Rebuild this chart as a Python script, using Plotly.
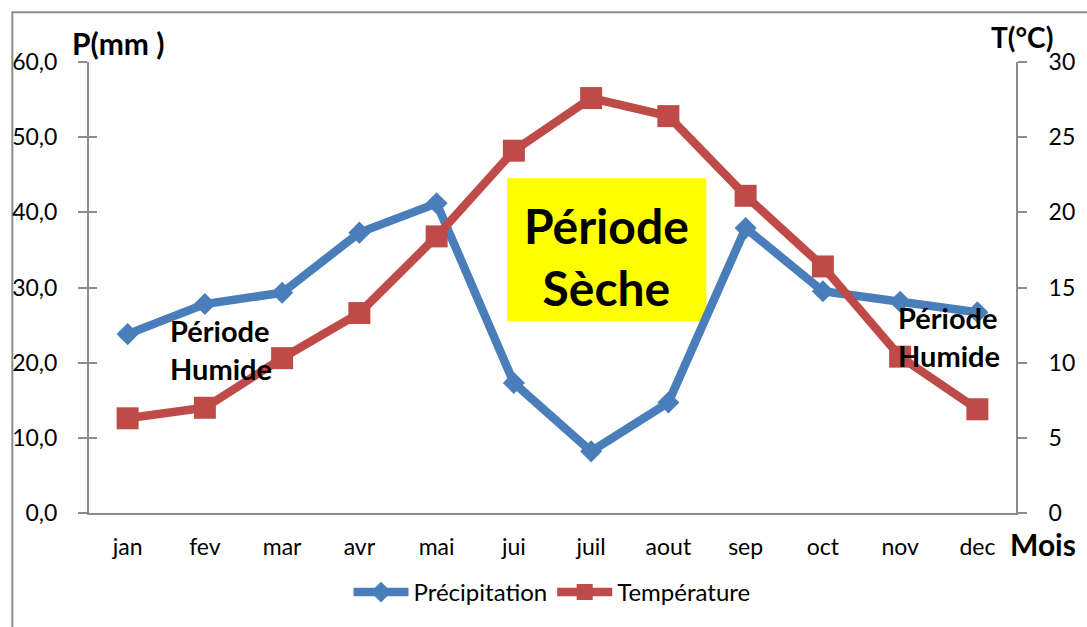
import plotly.graph_objects as go

mois = ["jan", "fev", "mar", "avr", "mai", "jui", "juil", "aout", "sep", "oct", "nov", "dec"]
precipitation = [23.8, 27.8, 29.3, 37.3, 41.2, 17.3, 8.2, 14.7, 37.9, 29.5, 28.1, 26.7]
temperature = [6.3, 7.0, 10.3, 13.3, 18.4, 24.1, 27.6, 26.4, 21.1, 16.4, 10.4, 6.9]

p_ticks = [0, 10, 20, 30, 40, 50, 60]
p_ticktext = ["0,0", "10,0", "20,0", "30,0", "40,0", "50,0", "60,0"]
t_ticks = [0, 5, 10, 15, 20, 25, 30]

BLUE = "#4A7EBB"
RED = "#BE4B48"
AXC = "#8C8C8C"
FONT = "Lato"

W, H = 1087, 627
L, R, T, B = 87, 69, 62, 111
PW, PH = W - L - R, H - T - B


def px(x):
    return (x - L) / PW


def py(y):
    return (H - B - y) / PH


fig = go.Figure()
fig.add_trace(go.Scatter(
    x=mois, y=precipitation, name="Précipitation", mode="lines+markers",
    line=dict(color=BLUE, width=8.5),
    marker=dict(symbol="diamond", size=17, color=BLUE),
    yaxis="y",
))
fig.add_trace(go.Scatter(
    x=mois, y=temperature, name="Température", mode="lines+markers",
    line=dict(color=RED, width=8.5),
    marker=dict(symbol="square", size=22, color=RED),
    yaxis="y2",
))

TICKF = dict(family=FONT, size=23, color="black")

fig.update_layout(
    width=W, height=H,
    margin=dict(l=L, r=R, t=T, b=B, pad=0),
    paper_bgcolor="white", plot_bgcolor="white",
    font=dict(family=FONT, size=23, color="black"),
    showlegend=True,
    legend=dict(orientation="h", x=px(552), xanchor="center", y=py(596), yanchor="middle",
                font=dict(family=FONT, size=24), itemwidth=55, itemsizing="trace",
                tracegroupgap=0),
    xaxis=dict(
        type="category", showgrid=False, zeroline=False,
        showline=True, linecolor=AXC, linewidth=2, ticks="",
        tickfont=TICKF, range=[-0.5, 11.5],
        ticklabelstandoff=12,
    ),
    yaxis=dict(
        range=[0, 60], tickvals=p_ticks, ticktext=p_ticktext,
        showgrid=False, zeroline=False, showline=True, linecolor=AXC, linewidth=2,
        ticks="outside", ticklen=9, tickcolor=AXC, tickwidth=2,
        tickfont=TICKF, ticklabelstandoff=16,
    ),
    yaxis2=dict(
        range=[0, 30], tickvals=t_ticks, overlaying="y", side="right",
        showgrid=False, zeroline=False, showline=True, linecolor=AXC, linewidth=2,
        ticks="outside", ticklen=9, tickcolor=AXC, tickwidth=2,
        tickfont=TICKF, ticklabelstandoff=17,
    ),
    yaxis3=dict(
        range=[0, 60], tickvals=p_ticks, overlaying="y", side="left",
        showgrid=False, zeroline=False, showline=False,
        ticks="inside", ticklen=8, tickcolor=AXC, tickwidth=2,
        showticklabels=False,
    ),
)

# invisible trace so yaxis3 is drawn
fig.add_trace(go.Scatter(x=mois, y=precipitation, yaxis="y3", mode="none",
                         showlegend=False, hoverinfo="skip"))

# outer frame
fig.add_shape(type="rect", xref="paper", yref="paper",
              x0=px(10), x1=px(1110), y0=py(650), y1=py(12),
              line=dict(color="#8C8C8C", width=2), fillcolor="rgba(0,0,0,0)", layer="below")

# yellow box
fig.add_shape(type="rect", xref="paper", yref="paper",
              x0=px(507), x1=px(707), y0=py(323), y1=py(179),
              line=dict(width=0), fillcolor="#FFFF00", layer="below")

anns = [
    dict(text="<b>Période<br>Sèche</b>", x=px(607), y=py(258), size=48, align="center"),
    dict(text="<b>Période<br>Humide</b>", x=px(220), y=py(351), size=29, align="left"),
    dict(text="<b>Période<br>Humide</b>", x=px(951), y=py(338), size=29, align="left"),
    dict(text="<b>P(mm )</b>", x=px(116), y=py(43), size=30, align="center"),
    dict(text="<b>T(°C)</b>", x=px(1024), y=py(37), size=28, align="center"),
    dict(text="<b>Mois</b>", x=px(1045), y=py(547), size=30, align="center"),
]
for a in anns:
    fig.add_annotation(text=a["text"], x=a["x"], y=a["y"], xref="paper", yref="paper",
                       xanchor="center", yanchor="middle", showarrow=False, align=a["align"],
                       font=dict(family=FONT, size=a["size"], color="black"))

fig.write_html("out.html", config={"displayModeBar": False},
               post_script="document.body.style.margin='0';document.body.style.padding='0';")
